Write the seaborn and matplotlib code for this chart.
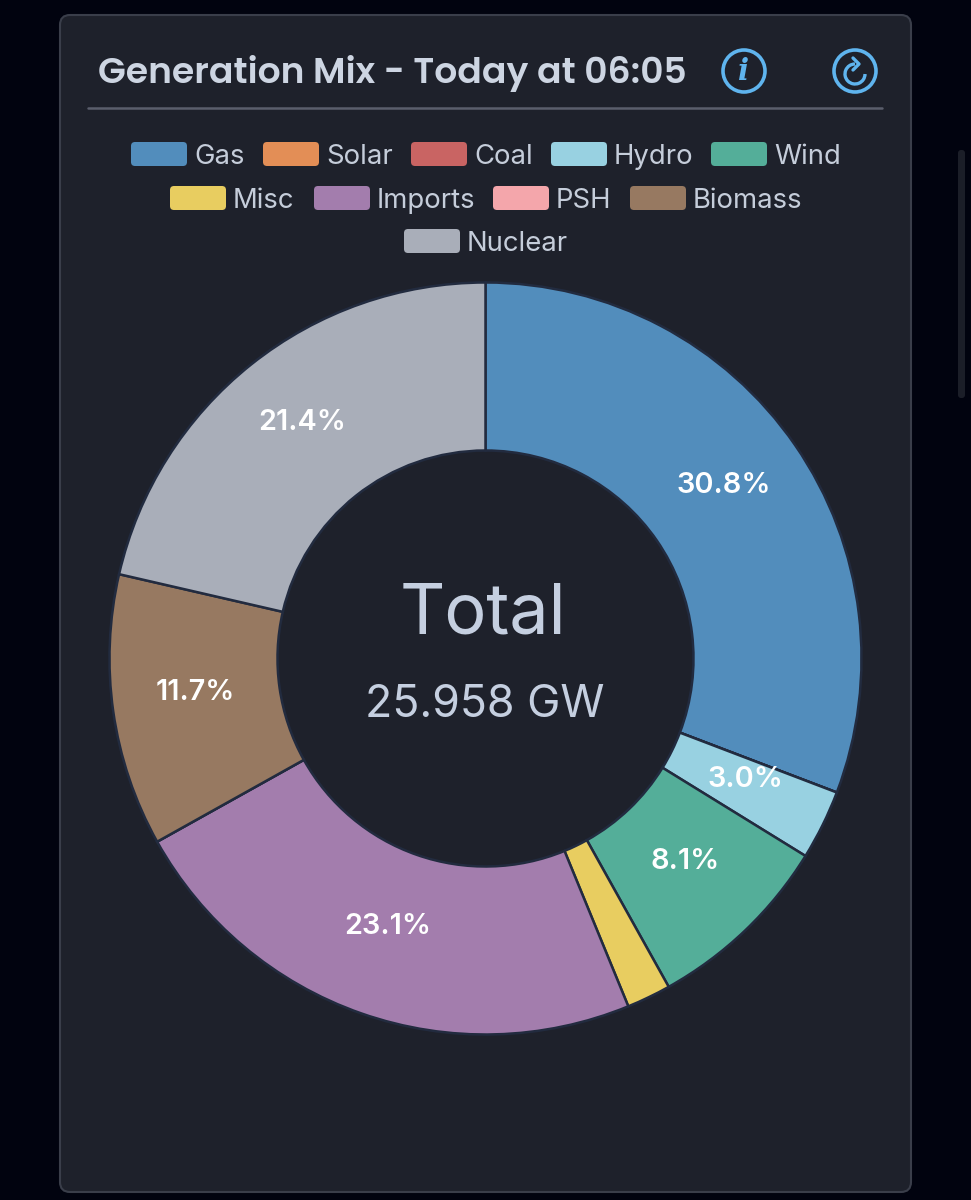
import math
import matplotlib
matplotlib.use("Agg")
import matplotlib.pyplot as plt
from matplotlib.patches import FancyBboxPatch, Circle, Arc
import seaborn as sns

sns.set_theme(style="white")
plt.rcParams['font.family'] = ['Inter', 'DejaVu Sans']

categories = ["Gas", "Solar", "Coal", "Hydro", "Wind", "Misc", "Imports", "PSH", "Biomass", "Nuclear"]
shares = [30.8, 0.0, 0.0, 3.0, 8.1, 1.9, 23.1, 0.0, 11.7, 21.4]
colors = ["#528dbc", "#e38e56", "#c96463", "#98d1e1", "#54ae99", "#e8cd60", "#a37dad", "#f4a6ab", "#977961", "#a9aeb9"]
labels = ["30.8%", "", "", "3.0%", "8.1%", "", "23.1%", "", "11.7%", "21.4%"]
title = "Generation Mix - Today at 06:05"
center_title = "Total"
center_value = "25.958 GW"

W, H = 971, 1200
fig = plt.figure(figsize=(W / 100, H / 100), dpi=100, facecolor="#01030f")
bg = fig.add_axes([0, 0, 1, 1])
bg.set_xlim(0, W); bg.set_ylim(H, 0); bg.axis("off")

bg.add_patch(FancyBboxPatch((60, 15), 851, 1177, boxstyle="round,pad=0,rounding_size=10",
                            fc="#1e212b", ec="#3a3e4a", lw=1.5))
bg.text(98, 74, title, color="#cdd5e2", fontsize=26, fontweight="semibold",
        family=["Poppins", "Open Sans", "DejaVu Sans"], va="center", ha="left")
bg.plot([88, 882], [108, 108], color="#5a5e6c", lw=1.8)

# icons
icon = "#5fb4ee"
bg.add_patch(Circle((744, 71), 21, fc="none", ec=icon, lw=2.6))
bg.text(744, 72, "i", color=icon, fontsize=21, ha="center", va="center",
        style="italic", fontweight="bold", family=["DejaVu Serif"])
bg.add_patch(Circle((855, 71), 21, fc="none", ec=icon, lw=2.6))
bg.add_patch(Arc((855, 74), 20, 20, theta1=0, theta2=270, color=icon, lw=2.4))
bg.plot([853, 859, 853], [58, 64, 70], color=icon, lw=2.4, solid_capstyle="round")

# legend
rows = [
    [("Gas", 131), ("Solar", 263), ("Coal", 411), ("Hydro", 551), ("Wind", 711)],
    [("Misc", 170), ("Imports", 314), ("PSH", 493), ("Biomass", 630)],
    [("Nuclear", 404)],
]
ys = [154, 198, 241]
cmap = dict(zip(categories, colors))
for row, y in zip(rows, ys):
    for name, x in row:
        bg.add_patch(FancyBboxPatch((x, y - 12), 56, 24, boxstyle="round,pad=0,rounding_size=4",
                                    fc=cmap[name], ec="none"))
        bg.text(x + 63, y + 3, name, color="#c5cdda", fontsize=19.8, va="center", ha="left")

# donut
cx, cy, R = 485.5, 658.5, 376
ax = fig.add_axes([(cx - R) / W, 1 - (cy + R) / H, 2 * R / W, 2 * R / H])
ax.set_facecolor("none")
wedges, _ = ax.pie(shares, colors=colors, startangle=90, counterclock=False, radius=1,
                   wedgeprops=dict(width=1 - 208 / 376, edgecolor="#222b3f", linewidth=1.8))
ax.set_xlim(-1, 1); ax.set_ylim(-1, 1)
ax.set_aspect("equal")

cum = 0
for s, lab in zip(shares, labels):
    mid = cum + s / 2
    cum += s
    if lab:
        th = math.radians(90 - mid * 3.6)
        r = 0.775
        ax.text(r * math.cos(th) - 0.004, r * math.sin(th) + 0.02, lab, color="white", fontsize=20.8,
                fontweight="semibold", ha="center", va="center")

ax.text(-0.007, 0.117, center_title, color="#c5cfe0", fontsize=50.5, ha="center", va="center")
ax.text(-0.002, -0.125, center_value, color="#c5cfe0", fontsize=32.2, ha="center", va="center")

# scrollbar
bg.add_patch(FancyBboxPatch((958, 150), 7, 248, boxstyle="round,pad=0,rounding_size=3",
                            fc="#1b1e28", ec="none"))

fig.savefig("out.png", dpi=100, facecolor=fig.get_facecolor())
